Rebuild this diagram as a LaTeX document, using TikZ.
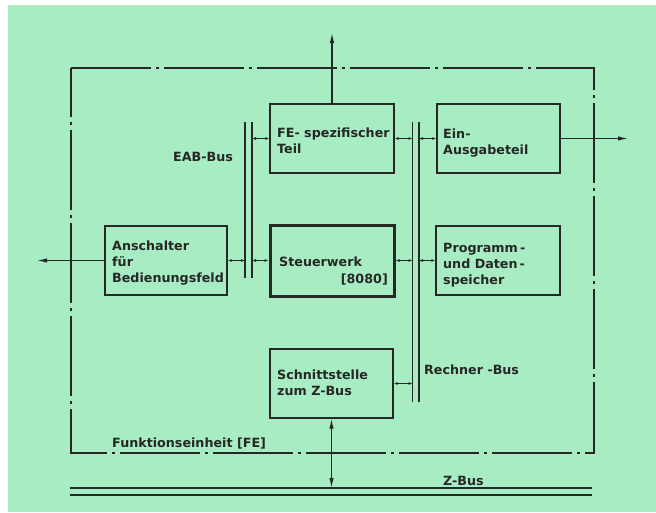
\documentclass[tikz,border=0pt]{standalone}
\usepackage{fontspec}
\setsansfont{DejaVu Sans}
\usetikzlibrary{arrows.meta}
\definecolor{bg}{RGB}{168,236,196}
\definecolor{ink}{RGB}{38,40,38}
\begin{document}
\begin{tikzpicture}[x=1pt,y=-1pt,
  box/.style={draw=ink, line width=1.4pt, inner sep=0pt, minimum width=124pt, minimum height=69pt},
  thickbox/.style={box, line width=3pt},
  lbl/.style={font=\sffamily\bfseries\fontsize{12.7}{15}\selectfont, text=ink, inner sep=0pt, anchor=base west},
  busline/.style={draw=ink, line width=1.2pt},
  link/.style={draw=ink, line width=1pt, {Latex[length=4pt,width=3pt]}-{Latex[length=4pt,width=3pt]}},
  outarrow/.style={draw=ink, line width=1.2pt, -{Latex[length=10pt,width=4.5pt]}},
  zarrow/.style={draw=ink, line width=1.2pt, {Latex[length=10pt,width=4.5pt]}-{Latex[length=10pt,width=4.5pt]}},
  frame/.style={draw=ink, line width=1.2pt, dash pattern=on 80pt off 5pt on 3pt off 5pt}
]
\useasboundingbox (0,0) rectangle (656,512);
\fill[white] (0,0) rectangle (656,512);
\fill[bg] (8,5) rectangle (656,512);

% frame of the Funktionseinheit
\draw[frame] (71,68) -- (594,68) -- (594,453) -- (71,453) -- cycle;

% boxes
\node[box] (fe) at (332,138.5) {};
\node[box, minimum width=123pt] (ea) at (498.5,138.5) {};
\node[box, minimum width=122pt] (an) at (166,260.5) {};
\node[thickbox, minimum height=71pt] (st) at (332,260.5) {};
\node[box] (pd) at (498,260.5) {};
\node[box, minimum width=123pt] (sz) at (331.5,383.5) {};

% buses
\coordinate (eabLt) at (245,122); \coordinate (eabLb) at (245,278);
\coordinate (eabRt) at (252,122); \coordinate (eabRb) at (252,278);
\coordinate (rbLt) at (412.5,122); \coordinate (rbLb) at (412.5,402);
\coordinate (rbRt) at (419,122); \coordinate (rbRb) at (419,402);
\draw[busline] (eabLt) -- (eabLb);
\draw[busline] (eabRt) -- (eabRb);
\draw[busline] (rbLt) -- (rbLb);
\draw[busline] (rbRt) -- (rbRb);

\coordinate (zbAl) at (70,488); \coordinate (zbAr) at (592,488);
\coordinate (zbBl) at (70,495); \coordinate (zbBr) at (592,495);
\draw[busline] (zbAl) -- (zbAr);
\draw[busline] (zbBl) -- (zbBr);

% links to buses
\draw[link] (eabRt |- fe.west) -- (fe.west);
\draw[link] (fe.east) -- (rbLt |- fe.east);
\draw[link] (rbRt |- ea.west) -- (ea.west);
\draw[link] (an.east) -- (eabLt |- an.east);
\draw[link] (eabRt |- st.west) -- (st.west);
\draw[link] (st.east) -- (rbLt |- st.east);
\draw[link] (rbRt |- pd.west) -- (pd.west);
\draw[link] (sz.east) -- (rbLt |- sz.east);

% outgoing arrows
\coordinate (topend) at (332,33);
\coordinate (rightend) at (628,138.5);
\coordinate (leftend) at (37,260.5);
\draw[outarrow] (fe.north) -- (topend);
\draw[outarrow] (ea.east) -- (rightend);
\draw[outarrow] (an.west) -- (leftend);
\draw[zarrow] (sz.south) -- (sz.south |- zbAl);

% texts
\node[lbl] (t1) at (277,137) {FE- spezifischer};
\node[lbl] (t2) at (277,153) {Teil};
\node[lbl] (t3) at (443,138) {Ein-};
\node[lbl] (t4) at (443,154) {Ausgabeteil};
\node[lbl] (t5) at (173,161) {EAB-Bus};
\node[lbl] (t6) at (112,250) {Anschalter};
\node[lbl] (t7) at (112,266) {für};
\node[lbl] (t8) at (112,282) {Bedienungsfeld};
\node[lbl] (t9) at (279,266) {Steuerwerk};
\node[lbl, anchor=base east] (t10) at (388,283) {[8080]};
\node[lbl] (t11) at (443,252) {Programm\,-};
\node[lbl] (t12) at (443,268) {und Daten\,-};
\node[lbl] (t13) at (443,284) {speicher};
\node[lbl] (t14) at (277,379) {Schnittstelle};
\node[lbl] (t15) at (277,395) {zum Z-Bus};
\node[lbl] (t16) at (424,374) {Rechner -Bus};
\node[lbl] (t17) at (112,447) {Funktionseinheit [FE]};
\node[lbl] (t18) at (443,485) {Z-Bus};
\end{tikzpicture}
\end{document}
